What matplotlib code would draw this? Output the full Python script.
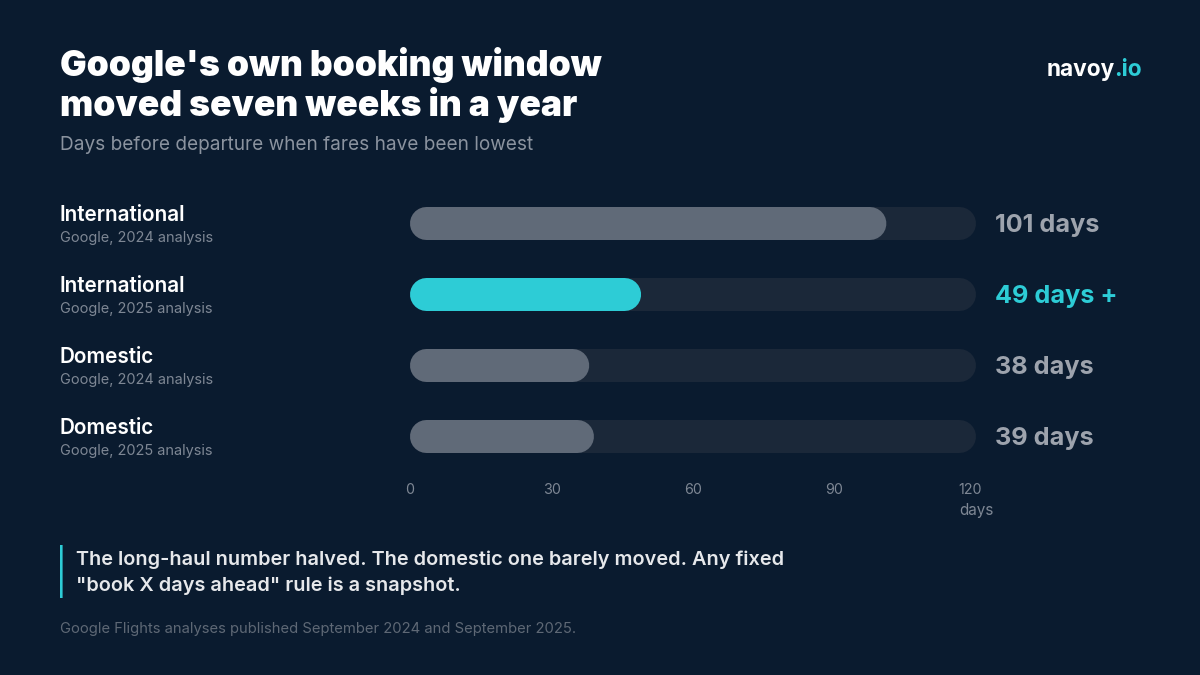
import matplotlib
matplotlib.use("Agg")
import matplotlib.pyplot as plt
from matplotlib.patches import Rectangle
from matplotlib.transforms import ScaledTranslation

categories = ["International", "International", "Domestic", "Domestic"]
sources = ["Google, 2024 analysis", "Google, 2025 analysis", "Google, 2024 analysis", "Google, 2025 analysis"]
values = [101, 49, 38, 39]
value_labels = ["101 days", "49 days +", "38 days", "39 days"]
highlight = [False, True, False, False]
xticks = [0, 30, 60, 90, 120]
xmax = 120
title_lines = ["Google's own booking window", "moved seven weeks in a year"]
subtitle = "Days before departure when fares have been lowest"
callout_lines = ["The long-haul number halved. The domestic one barely moved. Any fixed",
                 "\"book X days ahead\" rule is a snapshot."]
source_note = "Google Flights analyses published September 2024 and September 2025."

BG = "#0A1B2F"; TRACK = "#1B2839"; GREY = "#606A78"; TEAL = "#2DCCD6"
VALGREY = "#9DA3AD"; SUB = "#8B939F"; SMALL = "#7E8794"; FOOT = "#5E6875"; WHITE = "#FFFFFF"
FONT = "Inter"

W, H = 1200, 675
fig = plt.figure(figsize=(W/100, H/100), dpi=100, facecolor=BG)
def px(x, y):
    return x/W, 1-y/H
def T(x, y, s, **kw):
    kw.setdefault("family", FONT)
    kw.setdefault("va", "baseline")
    return fig.text(*px(x, y), s, **kw)

band = 71.0
ax_left, ax_right, ax_top = 410, 976, 223.5 - band/2
ax = fig.add_axes([ax_left/W, 1-(ax_top+4*band)/H, (ax_right-ax_left)/W, 4*band/H])
ax.set_facecolor("none")
ax.set_xlim(0, xmax); ax.set_ylim(3.5, -0.5)
for s in ax.spines.values():
    s.set_visible(False)
ax.set_yticks([])
ax.set_xticks(xticks)
ax.tick_params(axis="x", length=0, pad=8.2, labelsize=10.3, labelcolor=SMALL)
for l in ax.get_xticklabels():
    l.set_family(FONT)
lbl = ax.get_xticklabels()[-1]
lbl.set_transform(lbl.get_transform() + ScaledTranslation(-6/100, 0, fig.dpi_scale_trans))

bar_px = 33
xpx = (ax_right-ax_left)/xmax
rs = (bar_px/2)/xpx
lw = bar_px*72/100
def rbar(i, v, c, z):
    ax.plot([rs, v-rs], [i, i], color=c, lw=lw, solid_capstyle="round", zorder=z, clip_on=False, snap=False)
for i, (v, hl) in enumerate(zip(values, highlight)):
    rbar(i, xmax, TRACK, 1)
    rbar(i, v, TEAL if hl else GREY, 2)
    y = 207 + i*band
    T(59.4, y+13.6, categories[i], color=WHITE, fontsize=14.9, fontweight="semibold")
    T(60, y+35, sources[i], color=SMALL, fontsize=10.45)
    T(995, y+25, value_labels[i], color=TEAL if hl else VALGREY, fontsize=18.15, fontweight="bold")

T(959, 515, "days", color=SMALL, fontsize=11)
T(60, 76, title_lines[0], color=WHITE, fontsize=25.45, fontweight="black")
T(60, 116, title_lines[1], color=WHITE, fontsize=25.45, fontweight="black")
T(60, 150, subtitle, color=SUB, fontsize=13.7)
fig.add_artist(Rectangle(px(60, 598), 2.6/W, 53/H, transform=fig.transFigure, fc=TEAL, ec="none", snap=False))
T(76, 565, callout_lines[0], color="#E6E8EB", fontsize=14.35, fontweight="semibold")
T(76, 591, callout_lines[1], color="#E6E8EB", fontsize=14.35, fontweight="semibold")
T(60, 633, source_note, color=FOOT, fontsize=10.65)
t = T(1047, 76, "navoy", color=WHITE, fontsize=16.3, fontweight="bold")
fig.canvas.draw()
bb = t.get_window_extent()
T(bb.x1-1.5, 76, ".io", color=TEAL, fontsize=16.3, fontweight="bold")
fig.savefig("out.png", dpi=100, facecolor=BG)
